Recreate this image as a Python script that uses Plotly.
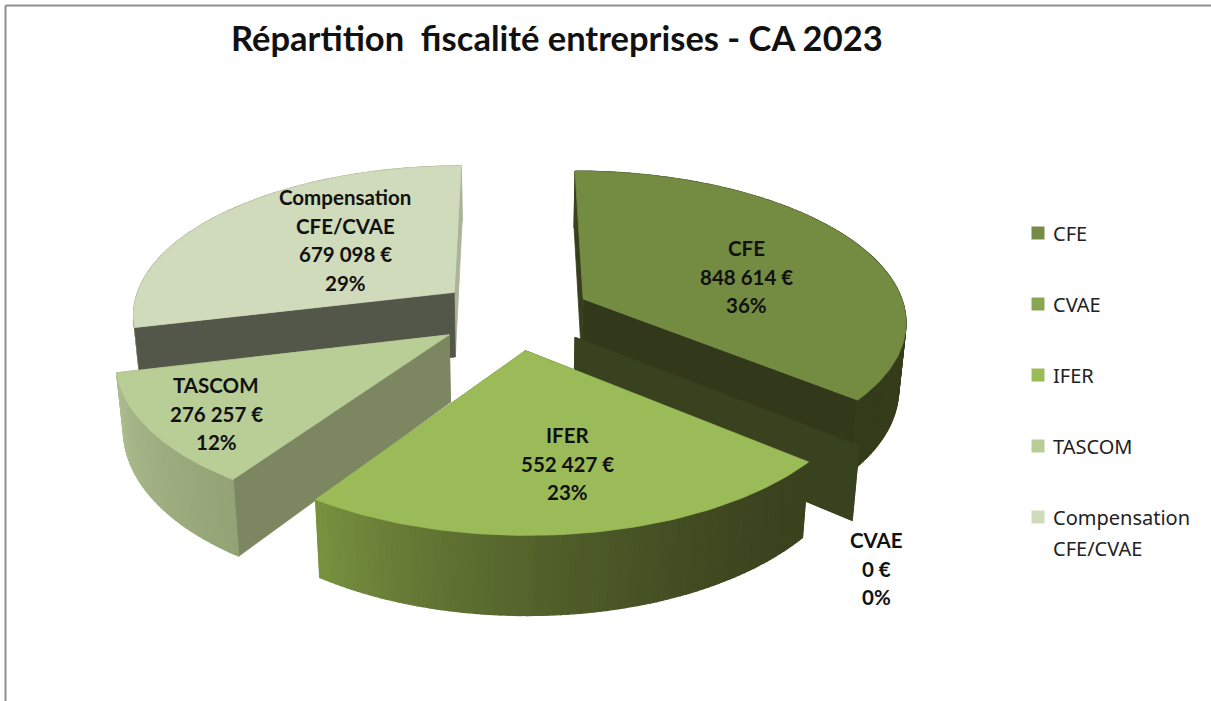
import math
import plotly.graph_objects as go

# ---- data ----
categories = ["CFE", "CVAE", "IFER", "TASCOM", "Compensation CFE/CVAE"]
label_lines = [["CFE"], ["CVAE"], ["IFER"], ["TASCOM"], ["Compensation", "CFE/CVAE"]]
values = [848614, 0, 552427, 276257, 679098]
percent_labels = ["36%", "0%", "23%", "12%", "29%"]
legend_colors = ["#768B46", "#8AA552", "#9BBB59", "#B9CD96", "#D0DBBB"]
top_colors = ["#748B42", "#8AA552", "#9BBB59", "#B9CD96", "#D0DBBB"]

# ---- styling ----
arc_start_color = [(58, 66, 30), (58, 66, 30), (58, 66, 30), (147, 163, 118), (150, 160, 130)]
arc_end_color = [(52, 60, 27), (58, 66, 30), (120, 146, 63), (172, 188, 142), (150, 160, 130)]
arc_gamma = [1, 1, 1.7, 1, 1]
arc_behind_walls = [False, False, False, False, True]
wall_start_color = ["#373F1C", "#39421E", "#39421E", "#7C8762", "#535749"]
wall_end_color = ["#32391A", "#39421E", "#7A9440", "#7C8762", "#AAB498"]
draw_order = [4, 0, 1, 3, 2]

EXPLODE = 0.24
TOP = dict(R=323, B=149, cy=314, k=0.135)
BOT = dict(R=317, B=159, cy=380, k=0.133)
CX = 514
label_centres = [(746, 248), (876, 540), (567, 435), (216, 385), (345, 197)]
label_step = 28.5
legend_x = 1038
legend_text_x = 1051
legend_ys = [233, 304, 375, 446, 517]
FONT = "Lato"


def project(x, z, level):
    s = 1.0 / (1.0 + level["k"] * z)
    return CX + level["R"] * x * s, level["cy"] - level["B"] * z * s


total = sum(values)
starts = []
acc = 0
for v in values:
    starts.append(acc / total * 2 * math.pi)
    acc += v


def span(i):
    return starts[i], starts[i] + values[i] / total * 2 * math.pi


def apex(i):
    a, b = span(i)
    m = (a + b) / 2
    return EXPLODE * math.sin(m), EXPLODE * math.cos(m)


def rim(i, theta, level):
    ax, az = apex(i)
    return project(ax + math.sin(theta), az + math.cos(theta), level)


def poly(fig, pts, color, width=0.8):
    fig.add_trace(go.Scatter(
        x=[p[0] for p in pts] + [pts[0][0]],
        y=[p[1] for p in pts] + [pts[0][1]],
        mode="lines", fill="toself", fillcolor=color,
        line=dict(color=color, width=width),
        hoverinfo="skip", showlegend=False))


def mix(c1, c2, t):
    return "rgb(%d,%d,%d)" % tuple(round(c1[j] + (c2[j] - c1[j]) * t) for j in range(3))


def draw_arc(fig, i):
    a, b = span(i)
    if values[i] <= 0:
        return
    n = max(3, int(math.degrees(b - a)))
    for j in range(n):
        t0 = a + (b - a) * j / n
        t1 = a + (b - a) * (j + 1) / n
        t = ((j + 0.5) / n) ** arc_gamma[i]
        poly(fig, [rim(i, t0, TOP), rim(i, t1, TOP), rim(i, t1, BOT), rim(i, t0, BOT)],
             mix(arc_start_color[i], arc_end_color[i], t), width=1.2)


fig = go.Figure()

for i in draw_order:
    a, b = span(i)
    ax, az = apex(i)
    if arc_behind_walls[i]:
        draw_arc(fig, i)
    # flat walls
    for theta, col in ((b, wall_end_color[i]), (a, wall_start_color[i])):
        poly(fig, [project(ax, az, TOP), rim(i, theta, TOP), rim(i, theta, BOT), project(ax, az, BOT)], col)
    if not arc_behind_walls[i]:
        draw_arc(fig, i)
    # top face
    if values[i] > 0:
        n = max(3, int(math.degrees(b - a)))
        pts = [project(ax, az, TOP)] + [rim(i, a + (b - a) * j / n, TOP) for j in range(n + 1)]
        poly(fig, pts, top_colors[i])

annotations = []


def add_text(x, y, text, size, family=FONT, bold=True, anchor="center", color="#111111"):
    annotations.append(dict(
        x=x, y=y, xref="x", yref="y", text=("<b>%s</b>" % text) if bold else text,
        showarrow=False, xanchor=anchor, yanchor="middle",
        font=dict(family=family, size=size, color=color)))


for i, (cx, cy) in enumerate(label_centres):
    money = f"{values[i]:,}".replace(",", "\u00a0") + "\u00a0€"
    lines = label_lines[i] + [money, percent_labels[i]]
    for k, line in enumerate(lines):
        add_text(cx, cy + k * label_step, line, 20.5)

# legend keys and names
for i, name in enumerate(categories):
    fig.add_trace(go.Scatter(
        x=[legend_x], y=[legend_ys[i]], mode="markers", name=name,
        marker=dict(symbol="square", size=13, color=legend_colors[i], line=dict(width=0)),
        hoverinfo="name", showlegend=False))
    for k, line in enumerate(label_lines[i]):
        add_text(legend_text_x, legend_ys[i] + k * 31, line, 20,
                 family="Noto Sans", bold=False, anchor="left", color="#222222")

add_text(557, 37, "Répartition\u00a0 fiscalité entreprises - CA 2023", 34.5)

fig.update_layout(
    width=1211, height=701,
    margin=dict(l=0, r=0, t=0, b=0),
    paper_bgcolor="white", plot_bgcolor="white",
    showlegend=False,
    xaxis=dict(range=[0, 1211], visible=False, fixedrange=True),
    yaxis=dict(range=[701, 0], visible=False, fixedrange=True),
    annotations=annotations,
    shapes=[
        dict(type="line", xref="x", yref="y", x0=5.5, x1=1211, y0=5.5, y1=5.5,
             line=dict(color="#8E8E8E", width=2)),
        dict(type="line", xref="x", yref="y", x0=5.5, x1=5.5, y0=5.5, y1=701,
             line=dict(color="#8E8E8E", width=2)),
    ],
)

fig.write_html("out.html", config={"displayModeBar": False},
               post_script="document.body.style.margin='0';document.body.style.overflow='hidden';")
